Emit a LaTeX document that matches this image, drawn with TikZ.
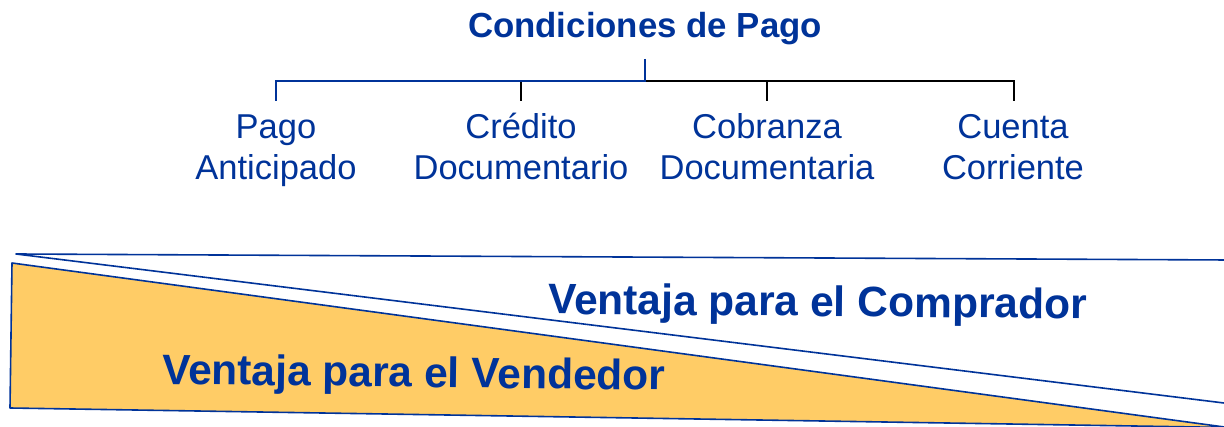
\documentclass[tikz,border=0pt]{standalone}
\usepackage{fontspec}
\setmainfont{Liberation Sans}
\definecolor{dblue}{RGB}{0,51,153}
\definecolor{gold}{RGB}{255,204,102}
\begin{document}
\begin{tikzpicture}[x=1pt,y=-1pt,
  titletxt/.style={inner sep=0pt,anchor=base,text=dblue,font=\fontsize{34.8}{40}\selectfont\bfseries},
  childtxt/.style={inner sep=0pt,anchor=base,text=dblue,font=\fontsize{34.5}{40}\selectfont},
  bigtxt/.style={inner sep=0pt,anchor=base west,text=dblue,font=\fontsize{42.5}{48}\selectfont\bfseries},
  blueline/.style={draw=dblue,line width=2pt},
  blackline/.style={draw=black,line width=2pt},
  wedge/.style={draw=dblue,line width=1.6pt,line join=round}]
\useasboundingbox (0,0) rectangle (1224,427);
% wedges
\path[wedge,fill=white] (16,254) -- (1228,260) -- (1228,403.5) -- cycle;
\path[wedge,fill=gold] (12,263) -- (10,408) -- (1228,427.5) -- cycle;
\node[bigtxt,rotate=-0.5] (comp) at (548,314) {Ventaja para el Comprador};
\node[bigtxt,rotate=-0.7] (vend) at (162,384) {Ventaja para el Vendedor};
% tree
\node[titletxt] (title) at (645,38) {Condiciones de Pago};
\node[childtxt] (c1a) at (276,139) {Pago};
\node[childtxt] (c1b) at (276,180) {Anticipado};
\node[childtxt] (c2a) at (521,139) {Crédito};
\node[childtxt] (c2b) at (521,180) {Documentario};
\node[childtxt] (c3a) at (767,139) {Cobranza};
\node[childtxt] (c3b) at (767,180) {Documentaria};
\node[childtxt] (c4a) at (1013,139) {Cuenta};
\node[childtxt] (c4b) at (1013,180) {Corriente};
\coordinate (hub) at (645,59);
\coordinate (bar) at (645,81);
\coordinate (d1) at (276,101);
\coordinate (d2) at (521,101);
\coordinate (d3) at (767,101);
\coordinate (d4) at (1014,101);
\draw[blackline] (bar) -| (d4);
\draw[blackline] (d2 |- bar) -- (d2);
\draw[blackline] (d3 |- bar) -- (d3);
\draw[blueline] (hub) -- (bar) -| (d1);
\end{tikzpicture}
\end{document}
